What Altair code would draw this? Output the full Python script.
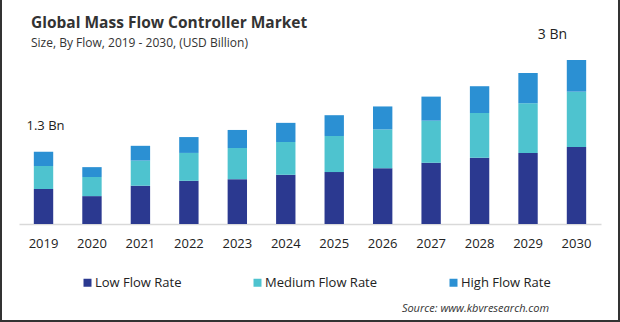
import altair as alt
import pandas as pd

years = ["2019", "2020", "2021", "2022", "2023", "2024", "2025", "2026", "2027", "2028", "2029", "2030"]
low = [0.64, 0.51, 0.70, 0.79, 0.82, 0.90, 0.95, 1.02, 1.12, 1.21, 1.30, 1.41]
medium = [0.42, 0.35, 0.46, 0.51, 0.57, 0.60, 0.66, 0.71, 0.77, 0.82, 0.91, 1.01]
high = [0.26, 0.18, 0.27, 0.29, 0.33, 0.35, 0.38, 0.42, 0.44, 0.49, 0.55, 0.58]
segments = ["Low Flow Rate", "Medium Flow Rate", "High Flow Rate"]
colors = ["#2B3990", "#4EC3CF", "#2B90D3"]
total_labels = {"2019": "1.3 Bn", "2030": "3 Bn"}

title_text = "Global Mass Flow Controller Market"
subtitle_text = "Size, By Flow, 2019 - 2030, (USD Billion)"
source_text = "Source: www.kbvresearch.com"

FONT = "Open Sans"

rows = []
for i, y in enumerate(years):
    for k, (seg, vals) in enumerate(zip(segments, [low, medium, high])):
        rows.append({"year": y, "segment": seg, "value": vals[i], "order": k})
df = pd.DataFrame(rows)

tot = pd.DataFrame({
    "year": years,
    "total": [a + b + c for a, b, c in zip(low, medium, high)],
})
tot["label"] = tot["year"].map(total_labels).fillna("")

xscale = alt.Scale(domain=years, paddingInner=0.6, paddingOuter=0.306)
yscale = alt.Scale(domain=[0, 4.097], nice=False, zero=True)

bars = alt.Chart(df).mark_bar().encode(
    x=alt.X("year:N", scale=xscale, sort=years,
            axis=alt.Axis(title=None, labelAngle=0, ticks=False, domainColor="#d9d9d9",
                          domainWidth=1.5, labelFont=FONT, labelFontSize=13,
                          labelColor="#222222", labelPadding=13)),
    y=alt.Y("value:Q", stack="zero", scale=yscale, axis=None),
    color=alt.Color("segment:N", scale=alt.Scale(domain=segments, range=colors),
                    legend=alt.Legend(title=None, orient="none", direction="horizontal",
                                      legendX=62, legendY=276, padding=0,
                                      symbolType="square",
                                      symbolSize=64, symbolStrokeWidth=0,
                                      labelFont=FONT, labelFontSize=13, labelColor="#222222",
                                      columnPadding=69, labelOffset=1)),
    order=alt.Order("order:Q", sort="ascending"),
)

lab_first = alt.Chart(tot[tot["year"] == "2019"]).mark_text(
    font=FONT, fontSize=13, color="#222222", baseline="alphabetic", dy=-22, dx=2
).encode(x=alt.X("year:N", scale=xscale, sort=years),
         y=alt.Y("total:Q", scale=yscale), text="label:N")

lab_last = alt.Chart(tot[tot["year"] == "2030"]).mark_text(
    font=FONT, fontSize=14, color="#222222", baseline="alphabetic", dy=-21, dx=-24
).encode(x=alt.X("year:N", scale=xscale, sort=years),
         y=alt.Y("total:Q", scale=yscale), text="label:N")

texts = pd.DataFrame({"t": [title_text, subtitle_text, source_text]})

title = alt.Chart(texts[texts.t == title_text]).mark_text(
    font=FONT, fontSize=15.5, fontWeight="bold", color="#333333", align="left", baseline="alphabetic"
).encode(x=alt.value(12), y=alt.value(28), text="t:N")

subtitle = alt.Chart(texts[texts.t == subtitle_text]).mark_text(
    font=FONT, fontSize=12, color="#333333", align="left", baseline="alphabetic"
).encode(x=alt.value(12), y=alt.value(47), text="t:N")

source = alt.Chart(texts[texts.t == source_text]).mark_text(
    font=FONT, fontSize=11, fontStyle="italic", color="#333333", align="right", baseline="alphabetic"
).encode(x=alt.value(530), y=alt.value(312), text="t:N")

border = alt.Chart(pd.DataFrame({"a": [0]})).mark_rect(
    fill=None, stroke="#333333", strokeWidth=2
).encode(x=alt.value(-18), x2=alt.value(600), y=alt.value(-5), y2=alt.value(321))

chart = alt.layer(bars, lab_first, lab_last, title, subtitle, source, border).properties(
    width=582, height=224,
    autosize=alt.AutoSizeParams(type="none"),
    padding={"left": 19, "right": 19, "top": 0, "bottom": 98},
    background="white",
).configure_view(stroke=None)

chart.save("out.html", embed_options={"renderer": "svg", "actions": False})
